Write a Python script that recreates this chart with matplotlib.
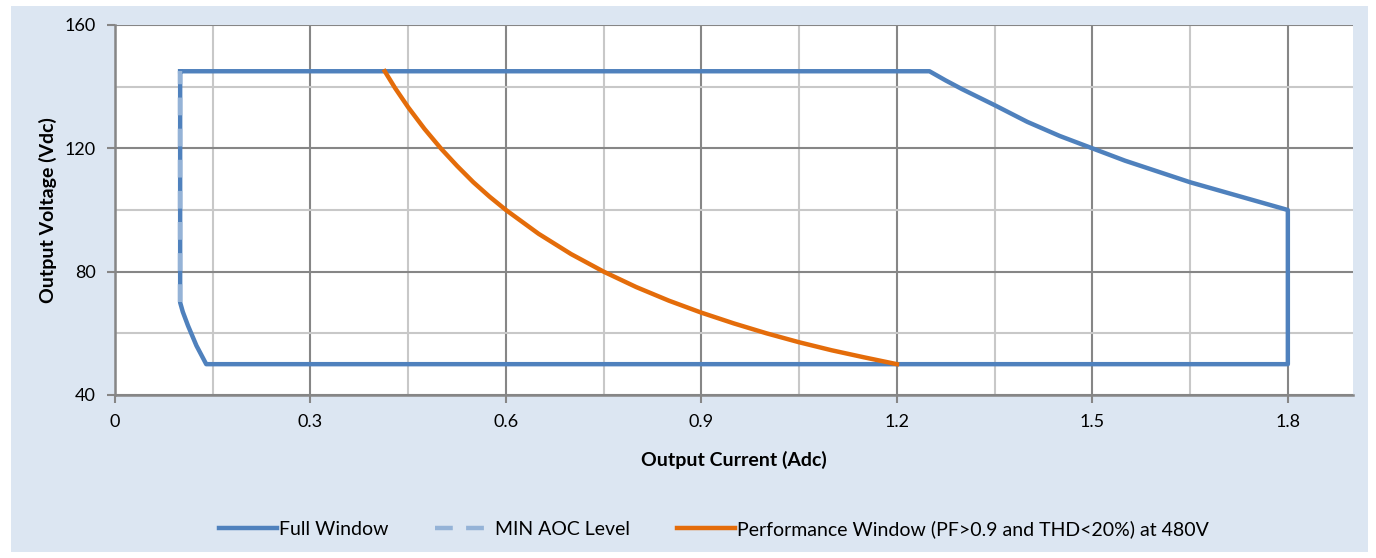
import matplotlib.pyplot as plt
from matplotlib.patches import Rectangle
from matplotlib.ticker import MultipleLocator

# Full window boundary (current A, voltage V)
full_i = [0.1, 1.25, 1.275, 1.3, 1.35, 1.4, 1.45, 1.5, 1.55, 1.6, 1.65, 1.7, 1.75,
          1.8, 1.8, 0.14, 0.125, 0.112, 0.104, 0.1, 0.1]
full_v = [145, 145, 142, 139.2, 134, 128.6, 124, 120, 116, 112.5, 109, 106, 103,
          100, 50, 50, 56, 62.5, 67, 70, 145]

# minimum AOC level
aoc_i = [0.1, 0.1]
aoc_v = [70, 145]

# performance window at 480V
perf_i = [0.414, 0.43, 0.45, 0.475, 0.5, 0.525, 0.55, 0.575, 0.6, 0.65, 0.7, 0.75,
          0.8, 0.85, 0.9, 0.95, 1.0, 1.05, 1.1, 1.15, 1.2]
perf_v = [145, 139.5, 133.3, 126.3, 120, 114.3, 109, 104.3, 100, 92.3, 85.7, 80,
          75, 70.6, 66.7, 63.2, 60, 57.1, 54.5, 52.2, 50]

bg = '#dce6f2'
plt.rcParams['font.family'] = ['Lato', 'DejaVu Sans']

fig = plt.figure(figsize=(13.76, 5.58), dpi=100, facecolor='white')
fig.patches.append(Rectangle((11/1376, 6/558), 1357/1376, 546/558,
                             transform=fig.transFigure, facecolor=bg,
                             edgecolor='none', zorder=-10))
ax = fig.add_axes([115/1376, 1 - 395/558, 1238/1376, 370/558])

ax.plot(full_i, full_v, color='#4f81bd', lw=3.2, label='Full Window',
        solid_joinstyle='round')
ax.plot(aoc_i, aoc_v, color='#95b3d7', lw=3.2, dashes=(4, 3),
        label='MIN AOC Level')
ax.plot(perf_i, perf_v, color='#e46c0a', lw=3.2, solid_joinstyle='round',
        label='Performance Window (PF>0.9 and THD<20%) at 480V')

ax.set_xlim(0, 1.9)
ax.set_ylim(40, 160)
ax.xaxis.set_major_locator(MultipleLocator(0.3))
ax.xaxis.set_minor_locator(MultipleLocator(0.15))
ax.yaxis.set_major_locator(MultipleLocator(40))
ax.yaxis.set_minor_locator(MultipleLocator(20))
ax.set_xticks([0, 0.3, 0.6, 0.9, 1.2, 1.5, 1.8])
ax.set_xticklabels(['0', '0.3', '0.6', '0.9', '1.2', '1.5', '1.8'])

ax.grid(which='major', color='#868686', lw=1.5)
ax.grid(which='minor', color='#c8c8c8', lw=1.5)
ax.set_axisbelow(True)
for s in ['top', 'right']:
    ax.spines[s].set_visible(False)
for s in ['left', 'bottom']:
    ax.spines[s].set_color('#868686')
    ax.spines[s].set_linewidth(1.8)
ax.tick_params(which='major', length=6, width=1.5, color='#868686',
               labelsize=13, pad=8)
ax.tick_params(which='minor', length=0)

ax.set_xlabel('Output Current (Adc)', fontsize=14, fontweight='bold', labelpad=15)
ax.set_ylabel('Output Voltage (Vdc)', fontsize=14, fontweight='bold', labelpad=5)

fig.legend(loc='center', bbox_to_anchor=(714/1376, 1 - 529/558), ncol=3,
           frameon=False, fontsize=14, handlelength=3.0, handletextpad=0.1,
           columnspacing=2.4)

fig.savefig('out.png', dpi=100, facecolor=fig.get_facecolor())
